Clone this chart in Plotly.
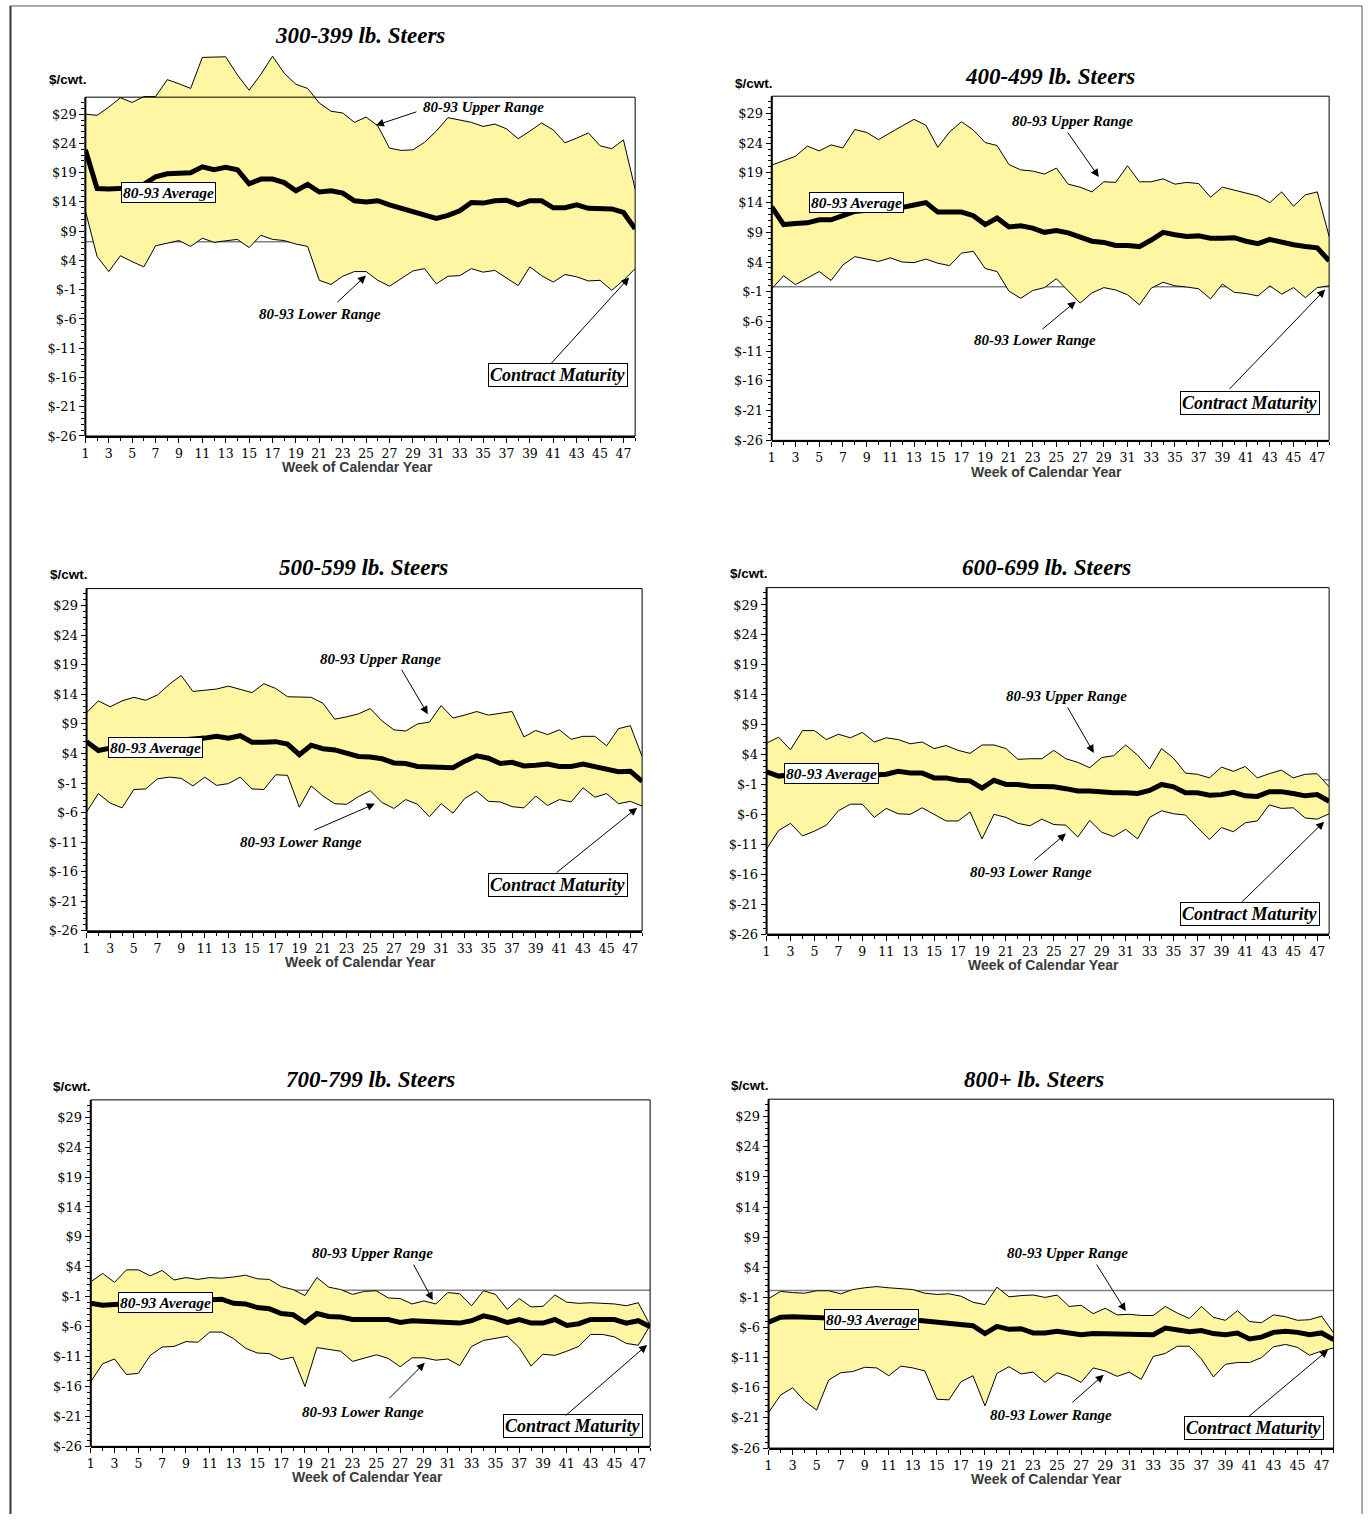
import plotly.graph_objects as go

W, H = 1372, 1522

weeks = list(range(1, 49))
y_tick_vals = [-26, -21, -16, -11, -6, -1, 4, 9, 14, 19, 24, 29]
y_tick_text = ["$" + str(v) for v in y_tick_vals]
x_tick_vals = list(range(1, 48, 2))
x_tick_text = [str(v) for v in x_tick_vals]
y_minor_vals = [v for v in range(-25, 32) if v not in y_tick_vals]
x_minor_vals = list(range(2, 49, 2))

titles = ["300-399 lb. Steers", "400-499 lb. Steers", "500-599 lb. Steers",
          "600-699 lb. Steers", "700-799 lb. Steers", "800+ lb. Steers"]

upper_300 = [29.0, 28.8, 30.2, 31.8, 31.0, 32.0, 32.0, 34.9, 34.2, 33.4,
             38.7, 38.8, 38.8, 35.7, 33.1, 35.8, 38.9, 36.0, 34.1, 33.4,
             30.9, 29.5, 29.2, 27.6, 28.5, 27.0, 23.2, 22.8, 22.9, 24.2,
             26.1, 28.4, 28.0, 27.6, 26.9, 27.3, 26.5, 24.8, 26.1, 27.5,
             26.3, 24.1, 24.9, 25.8, 23.6, 23.1, 24.6, 16.2]
avg_300 = [22.9, 16.3, 16.2, 16.2, 16.4, 17.0, 18.3, 18.8, 19.0, 19.0,
           20.0, 19.5, 19.9, 19.5, 17.1, 17.9, 17.9, 17.3, 15.9, 17.0,
           15.7, 15.9, 15.5, 14.2, 14.0, 14.2, 13.5, 12.9, 12.2, 11.6,
           11.2, 11.7, 12.5, 13.9, 13.8, 14.2, 14.3, 13.5, 14.2, 14.2,
           13.0, 13.0, 13.5, 12.9, 12.9, 12.8, 12.2, 9.4]
lower_300 = [12.5, 4.7, 2.1, 4.8, 3.8, 2.9, 6.5, 7.0, 7.4, 6.4,
             7.8, 7.1, 7.4, 7.6, 6.2, 8.3, 7.6, 7.4, 6.8, 6.4,
             0.6, -0.1, 1.3, 2.1, 2.1, 0.6, -0.4, 0.9, 2.2, 2.6,
             0.0, 1.3, 1.4, 2.6, 2.0, 2.3, 1.0, -0.3, 2.9, 1.4,
             0.3, 1.6, 1.2, 0.5, 0.6, -1.1, 0.6, 2.6]

upper_400 = [20.3, 21.0, 21.8, 23.5, 22.7, 23.7, 23.2, 26.3, 25.8, 24.6,
             25.8, 26.9, 28.0, 27.0, 23.3, 25.9, 27.6, 26.2, 24.1, 23.6,
             20.4, 19.5, 19.3, 18.8, 19.8, 17.1, 16.6, 15.8, 17.5, 17.4,
             20.2, 17.5, 17.5, 18.0, 17.1, 17.4, 17.2, 14.9, 16.6, 16.1,
             15.7, 15.1, 14.0, 15.8, 13.4, 15.3, 15.8, 8.3]
avg_400 = [13.3, 10.3, 10.5, 10.6, 11.1, 11.1, 11.8, 12.5, 12.7, 12.8,
           12.9, 13.2, 13.6, 14.0, 12.4, 12.3, 12.4, 11.8, 10.3, 11.4,
           9.9, 10.1, 9.7, 9.0, 9.3, 8.9, 8.2, 7.5, 7.3, 6.8,
           6.8, 6.6, 7.7, 9.0, 8.6, 8.3, 8.4, 8.0, 8.0, 8.1,
           7.5, 7.1, 7.8, 7.3, 6.9, 6.6, 6.4, 4.2]
lower_400 = [-0.5, 1.7, 0.2, 1.3, 2.4, 0.9, 3.5, 4.9, 4.5, 4.1,
             4.7, 4.0, 3.9, 4.5, 3.8, 3.4, 5.5, 5.8, 2.9, 2.4,
             -0.9, -2.1, -0.8, -0.3, 1.2, -0.9, -2.9, -1.2, -0.3, -0.7,
             -1.5, -3.2, -0.4, 0.6, 0.0, -0.2, -0.5, -2.2, 0.3, -1.1,
             -1.3, -1.7, 0.0, -1.4, -0.3, -2.0, -0.3, 0.0]

upper_500 = [10.9, 12.9, 11.9, 12.9, 13.5, 13.0, 13.9, 15.7, 17.2, 14.5,
             14.7, 14.9, 15.4, 14.9, 14.3, 15.8, 15.0, 13.6, 13.6, 13.5,
             12.5, 9.8, 10.2, 10.7, 11.6, 9.5, 8.0, 7.8, 9.0, 9.3,
             12.1, 10.0, 10.5, 11.1, 10.5, 10.8, 11.1, 6.8, 7.9, 7.2,
             8.0, 6.4, 6.9, 6.9, 5.3, 8.2, 8.7, 3.5]
avg_500 = [6.0, 4.5, 4.9, 5.2, 5.5, 5.8, 6.0, 6.2, 6.3, 6.4,
           6.6, 6.9, 6.6, 7.0, 5.9, 5.9, 6.0, 5.6, 3.8, 5.4,
           4.8, 4.6, 4.1, 3.5, 3.4, 3.1, 2.4, 2.3, 1.8, 1.7,
           1.7, 1.6, 2.7, 3.6, 3.2, 2.3, 2.5, 1.9, 2.0, 2.2,
           1.8, 1.8, 2.2, 1.7, 1.3, 0.9, 1.0, -0.7]
lower_500 = [-5.9, -2.8, -4.4, -5.2, -2.1, -2.0, -0.3, 0.0, -0.2, -1.5,
             0.0, -1.4, -1.1, 0.0, -2.0, -2.1, 0.4, 0.3, -5.1, -1.5,
             -3.2, -4.5, -4.6, -3.3, -2.3, -4.3, -5.3, -3.8, -4.6, -6.7,
             -4.5, -6.1, -3.6, -2.4, -4.1, -4.2, -5.0, -5.2, -3.2, -4.8,
             -3.8, -4.2, -1.8, -3.4, -2.8, -4.5, -4.1, -4.9]

upper_600 = [5.9, 6.9, 4.8, 8.0, 8.0, 6.5, 7.4, 6.8, 7.7, 6.1,
             6.8, 6.5, 5.8, 6.1, 5.0, 5.5, 4.7, 4.2, 5.6, 5.6,
             5.0, 3.2, 3.3, 3.3, 4.7, 3.3, 2.7, 1.8, 3.5, 3.8,
             5.6, 3.9, 1.6, 5.0, 3.4, 0.9, 0.7, 0.1, 1.9, 1.2,
             2.0, 0.1, 0.8, 1.4, 0.1, 0.7, 0.8, -1.4]
avg_600 = [1.1, 0.4, 0.6, 0.8, 0.9, 0.9, 0.8, 0.8, 0.7, 0.6,
           0.7, 1.2, 0.9, 0.9, 0.1, 0.1, -0.3, -0.4, -1.6, -0.3,
           -1.0, -1.0, -1.3, -1.3, -1.4, -1.7, -2.1, -2.1, -2.3, -2.4,
           -2.4, -2.5, -2.0, -1.0, -1.4, -2.4, -2.4, -2.8, -2.7, -2.3,
           -2.9, -3.0, -2.2, -2.2, -2.5, -2.9, -2.7, -3.8]
lower_600 = [-11.8, -8.7, -7.5, -9.6, -8.8, -7.8, -5.4, -4.3, -4.3, -6.5,
             -5.0, -5.9, -6.0, -4.9, -6.0, -7.1, -7.1, -5.6, -10.1, -6.0,
             -6.5, -7.5, -7.9, -6.8, -7.7, -7.8, -9.8, -7.0, -9.0, -9.7,
             -8.5, -10.1, -6.5, -5.4, -5.9, -6.1, -8.2, -10.2, -8.2, -8.9,
             -7.4, -7.1, -4.4, -5.0, -4.9, -6.6, -6.8, -5.9]

upper_700 = [1.5, 2.9, 1.4, 3.5, 3.5, 2.5, 3.4, 1.8, 2.2, 1.9,
             2.2, 2.1, 2.3, 2.6, 2.0, 1.9, 0.7, 0.2, -0.8, 2.2,
             0.6, 0.2, -0.6, -0.1, 0.0, -1.2, -1.3, -2.2, -1.7, -2.2,
             -0.3, -0.5, -2.5, 0.0, -0.6, -3.1, -1.3, -2.7, -2.6, -0.7,
             -1.9, -2.1, -2.0, -2.1, -2.2, -2.5, -2.0, -5.7]
avg_700 = [-2.1, -2.4, -2.3, -2.2, -2.1, -2.0, -1.9, -1.8, -1.7, -1.6,
           -1.4, -1.4, -2.1, -2.2, -2.8, -3.0, -3.8, -4.0, -5.3, -3.8,
           -4.3, -4.4, -4.8, -4.9, -4.8, -4.8, -5.3, -5.0, -5.1, -5.3,
           -5.4, -5.4, -5.0, -4.2, -4.6, -5.3, -4.8, -5.4, -5.4, -4.8,
           -5.8, -5.5, -4.8, -4.7, -4.8, -5.4, -5.0, -6.0]
lower_700 = [-15.2, -12.2, -11.4, -14.0, -13.8, -10.8, -9.4, -9.3, -8.5, -8.6,
             -6.9, -6.9, -8.0, -9.6, -10.4, -10.5, -11.5, -11.1, -16.0, -9.5,
             -9.8, -10.1, -11.8, -11.2, -10.7, -11.3, -12.7, -11.2, -11.2, -11.6,
             -11.4, -12.5, -9.3, -8.3, -7.9, -7.6, -9.5, -12.6, -10.6, -10.8,
             -10.1, -9.3, -7.3, -7.3, -7.7, -8.8, -9.1, -5.8]

upper_800 = [-1.2, 0.0, -0.2, -0.3, 0.1, 0.1, -0.4, 0.3, 0.6, 0.8,
             0.6, 0.4, 0.3, -0.3, -0.5, -0.4, -0.8, -1.8, -2.2, 0.7,
             -0.9, -0.7, -0.6, -1.0, -0.6, -2.5, -2.3, -3.7, -2.8, -3.9,
             -3.8, -4.0, -4.0, -2.5, -3.6, -4.5, -2.5, -4.3, -4.8, -3.2,
             -5.0, -5.2, -3.9, -4.2, -4.8, -4.7, -4.1, -6.9]
avg_800 = [-5.1, -4.3, -4.2, -4.2, -4.4, -4.4, -4.5, -4.5, -4.5, -4.5,
           -4.5, -4.6, -4.7, -4.9, -5.1, -5.2, -5.6, -5.7, -7.0, -5.8,
           -6.3, -6.2, -6.9, -6.9, -6.6, -6.9, -7.2, -7.0, -7.0, -7.0,
           -7.2, -7.2, -7.2, -6.1, -6.3, -6.7, -6.5, -7.0, -7.2, -6.9,
           -7.9, -7.6, -6.8, -6.6, -6.8, -7.2, -6.9, -8.0]
lower_800 = [-20.1, -17.2, -16.0, -18.2, -19.7, -14.7, -13.5, -13.3, -12.6, -12.7,
             -14.0, -12.4, -12.7, -13.2, -17.9, -18.0, -15.0, -14.0, -19.0, -13.6,
             -12.5, -13.7, -13.4, -15.1, -13.5, -14.1, -15.1, -12.7, -13.2, -14.1,
             -13.4, -14.6, -10.8, -10.3, -9.1, -9.1, -11.2, -14.2, -12.1, -11.8,
             -11.8, -11.0, -9.2, -8.8, -9.3, -10.6, -9.9, -9.4]

# reference (thin grey) line level per panel, drawn behind the band
ref_levels = [7.2, -0.15, None, -0.2, 0.1, 0.15]

uppers = [upper_300, upper_400, upper_500, upper_600, upper_700, upper_800]
avgs = [avg_300, avg_400, avg_500, avg_600, avg_700, avg_800]
lowers = [lower_300, lower_400, lower_500, lower_600, lower_700, lower_800]

Y_MIN, Y_TOP = -26, 31.9

# layout geometry (pixels): left, right, bottom(-26), top of frame, axis top value
frames = [
    (81.6, 633.0, 438.3, 97.7, 40.0),
    (770.0, 1329.0, 442.7, 96.7, Y_TOP),
    (82.8, 640.0, 935.7, 591.7, Y_TOP),
    (764.8, 1329.0, 939.0, 590.7, Y_TOP),
    (87.0, 648.0, 1454.0, 1105.7, Y_TOP),
    (766.8, 1333.5, 1455.7, 1105.0, Y_TOP),
]

# text positions (pixels)
title_pos = [(357, 36), (1049, 77), (361, 571), (1046, 570), (368, 1085), (1033, 1085)]
cwt_pos = [(64, 80), (752, 84), (65, 578), (747, 577), (68, 1092), (748, 1091)]
week_pos = [(355, 469), (1046, 474), (358, 967), (1043, 970), (365, 1485), (1046, 1487)]
avg_pos = [(165, 194), (855, 204), (152, 751), (830, 778), (162, 1309), (870, 1326)]
upper_txt = [(481, 108), (1072, 122), (378, 662), (1066, 700), (370, 1260), (1067, 1260)]
upper_arr = [((415, 112), (373, 126)), ((1066, 132), (1098, 178)), ((398, 672), (425, 718)),
             ((1066, 710), (1093, 757)), ((410, 1270), (430, 1307)), ((1095, 1270), (1125, 1318))]
lower_txt = [(317, 316), (1034, 342), (298, 846), (1030, 877), (360, 1419), (1050, 1422)]
lower_arr = [((333, 305), (363, 277)), ((1040, 332), (1075, 303)), ((310, 835), (372, 808)),
             ((1032, 866), (1065, 838)), ((385, 1407), (422, 1370)), ((1070, 1411), (1103, 1382))]
cm_txt = [(556, 377), (1250, 405), (556, 890), (1250, 919), (571, 1434), (1254, 1436)]
cm_arr = [((548, 366), (627, 279)), ((1228, 392), (1325, 291)), ((553, 878), (635, 812)),
          ((1240, 908), (1324, 826)), ((562, 1424), (645, 1352)), ((1247, 1425), (1328, 1357))]

def px(x):
    return x / W

def py(y):
    return 1 - y / H

SERIF_BI = "Liberation Serif"
YELLOW = "#FFF6A3"

fig = go.Figure()
annotations = []
shapes = []

def label(text, pos, size, family, color="black", **kw):
    d = dict(text=text, x=px(pos[0]), y=py(pos[1]), xref="paper", yref="paper",
             xanchor="center", yanchor="middle", showarrow=False,
             font=dict(family=family, size=size, color=color))
    d.update(kw)
    return d

for i in range(6):
    n = "" if i == 0 else str(i + 1)
    xa, ya = "x" + n, "y" + n
    left, right, bottom, top, ymax = frames[i]
    scale = (bottom - top) / (Y_TOP - Y_MIN)
    dom_top = bottom - (ymax - Y_MIN) * scale

    if ref_levels[i] is not None:
        fig.add_trace(go.Scatter(x=weeks, y=[ref_levels[i]] * len(weeks), mode="lines",
                                 line=dict(color="#808080", width=1.5),
                                 xaxis=xa, yaxis=ya, showlegend=False, hoverinfo="skip"))
    fig.add_trace(go.Scatter(x=weeks + weeks[::-1], y=uppers[i] + lowers[i][::-1],
                             mode="lines", fill="toself", fillcolor=YELLOW,
                             line=dict(width=0, color=YELLOW),
                             xaxis=xa, yaxis=ya, showlegend=False, hoverinfo="skip"))
    fig.add_trace(go.Scatter(x=weeks, y=uppers[i], mode="lines",
                             line=dict(color="black", width=1),
                             xaxis=xa, yaxis=ya, showlegend=False, name="80-93 Upper Range"))
    fig.add_trace(go.Scatter(x=weeks, y=lowers[i], mode="lines",
                             line=dict(color="black", width=1),
                             xaxis=xa, yaxis=ya, showlegend=False, name="80-93 Lower Range"))
    fig.add_trace(go.Scatter(x=weeks, y=avgs[i], mode="lines",
                             line=dict(color="black", width=5),
                             xaxis=xa, yaxis=ya, showlegend=False, name="80-93 Average"))

    fig.update_layout(**{
        ("xaxis" + n): dict(domain=[px(left), px(right)], range=[1, 48], anchor=ya,
                            tickmode="array", tickvals=x_tick_vals, ticktext=x_tick_text,
                            ticks="outside", ticklen=5, tickwidth=1.2, tickcolor="black",
                            minor=dict(tickvals=x_minor_vals, ticks="outside", ticklen=3,
                                       tickwidth=1, tickcolor="black"),
                            showline=True, linecolor="black", linewidth=2,
                            showgrid=False, zeroline=False,
                            tickfont=dict(family="DejaVu Serif", size=12.5, color="black")),
        ("yaxis" + n): dict(domain=[py(bottom), py(dom_top)], range=[Y_MIN, ymax], anchor=xa,
                            tickmode="array", tickvals=y_tick_vals, ticktext=y_tick_text,
                            ticks="outside", ticklen=5, tickwidth=1.2, tickcolor="black",
                            minor=dict(tickvals=y_minor_vals, ticks="outside", ticklen=3,
                                       tickwidth=1, tickcolor="black"),
                            showline=False, showgrid=False, zeroline=False,
                            tickfont=dict(family="DejaVu Serif", size=13, color="black")),
    })

    frac = (Y_TOP - Y_MIN) / (ymax - Y_MIN)
    shapes.append(dict(type="rect", xref=xa + " domain", yref=ya + " domain",
                       x0=0, x1=1, y0=0, y1=frac, line=dict(color="black", width=1)))
    shapes.append(dict(type="line", xref=xa + " domain", yref=ya + " domain",
                       x0=0, x1=0, y0=0, y1=frac, line=dict(color="black", width=2)))

    annotations.append(label("<b><i>" + titles[i] + "</i></b>", title_pos[i], 23, SERIF_BI))
    annotations.append(label("<b>$/cwt.</b>", cwt_pos[i], 13.5, "Liberation Sans"))
    annotations.append(label("<b>Week of Calendar Year</b>", week_pos[i], 14,
                             "Liberation Sans", color="#3a3a3a"))
    annotations.append(label("<b><i>80-93 Average</i></b>", avg_pos[i], 15.5, SERIF_BI,
                             bgcolor="white", bordercolor="black", borderwidth=1, borderpad=1))
    annotations.append(label("<b><i>80-93 Upper Range</i></b>", upper_txt[i], 15, SERIF_BI))
    annotations.append(label("<b><i>80-93 Lower Range</i></b>", lower_txt[i], 15, SERIF_BI))
    annotations.append(label("<b><i>Contract Maturity</i></b>", cm_txt[i], 18, SERIF_BI,
                             bgcolor="white", bordercolor="black", borderwidth=1, borderpad=1))
    for (tail, head) in (upper_arr[i], lower_arr[i], cm_arr[i]):
        annotations.append(dict(text="", x=px(head[0]), y=py(head[1]), xref="paper", yref="paper",
                                ax=tail[0] - head[0], ay=tail[1] - head[1],
                                showarrow=True, arrowhead=2, arrowsize=1.6, arrowwidth=1,
                                arrowcolor="black"))

# page border: left, top and right edges only (bottom runs off the page)
shapes.append(dict(type="line", xref="paper", yref="paper", x0=px(6.5), x1=px(6.5),
                   y0=py(1522), y1=py(6), line=dict(color="#333333", width=2)))
shapes.append(dict(type="line", xref="paper", yref="paper", x0=px(6), x1=px(1362),
                   y0=py(6), y1=py(6), line=dict(color="#555555", width=1)))
shapes.append(dict(type="line", xref="paper", yref="paper", x0=px(1362), x1=px(1362),
                   y0=py(1522), y1=py(6), line=dict(color="#555555", width=1)))

fig.update_layout(width=W, height=H, margin=dict(l=0, r=0, t=0, b=0),
                  paper_bgcolor="white", plot_bgcolor="white",
                  annotations=annotations, shapes=shapes, showlegend=False)

fig.write_html("out.html", config={"displayModeBar": False},
               post_script="document.body.style.margin='0';document.body.style.overflow='hidden';")
